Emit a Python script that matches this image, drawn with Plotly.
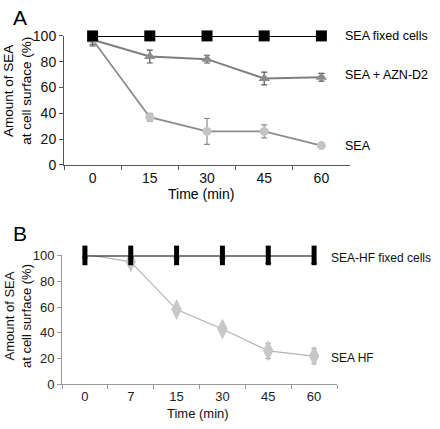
import plotly.graph_objects as go

W, H = 440, 429

# ---------- data ----------
time_a = ["0", "15", "30", "45", "60"]
sea_fixed = [100, 100, 100, 100, 100]
sea_azn = [97, 84, 82, 67, 68]
sea_azn_err = [4, 5, 3, 5, 3]
sea = [97, 37, 26, 26, 15]
sea_err = [5, 3, 10, 5, 1]

time_b = ["0", "7", "15", "30", "45", "60"]
seahf_fixed = [100, 100, 100, 100, 100, 100]
seahf_fixed_err = [2, 2, 2, 2, 6, 6]
seahf = [101, 95, 58, 43, 26, 22]
seahf_err = [2, 3, 3, 4, 6, 6]

yticks = [0, 20, 40, 60, 80, 100]

FONT = "Liberation Sans, Arial, sans-serif"

def px(x):
    return x / W

def py(y):
    return 1 - y / H

fig = go.Figure()

# ---------- panel A ----------
fig.add_trace(go.Scatter(x=time_a, y=sea, mode="lines+markers",
    line=dict(color="#8c8c8c", width=1.8),
    marker=dict(symbol="circle", size=9, color="#c4c4c4"),
    error_y=dict(type="data", array=sea_err, color="#8a8a8a", thickness=1.2, width=3),
    xaxis="x", yaxis="y", cliponaxis=False, showlegend=False))
fig.add_trace(go.Scatter(x=time_a, y=sea_azn, mode="lines+markers",
    line=dict(color="#7f7f7f", width=2),
    marker=dict(symbol="triangle-up", size=10, color="#8c8c8c"),
    error_y=dict(type="data", array=sea_azn_err, color="#555555", thickness=1.2, width=3),
    xaxis="x", yaxis="y", cliponaxis=False, showlegend=False))
fig.add_trace(go.Scatter(x=time_a, y=sea_fixed, mode="lines+markers",
    line=dict(color="black", width=2),
    marker=dict(symbol="square", size=11, color="black"),
    xaxis="x", yaxis="y", cliponaxis=False, showlegend=False))

# ---------- panel B ----------
fig.add_trace(go.Scatter(x=time_b, y=seahf, mode="lines+markers",
    line=dict(color="#b4b4b4", width=1.2),
    marker=dict(symbol="diamond-tall", size=15, color="#c8c8c8"),
    error_y=dict(type="data", array=seahf_err, color="#777777", thickness=1, width=2.5),
    xaxis="x2", yaxis="y2", cliponaxis=False, showlegend=False))
fig.add_trace(go.Scatter(x=time_b, y=seahf_fixed, mode="lines+markers",
    line=dict(color="black", width=2),
    marker=dict(symbol="line-ns", size=14, line=dict(color="black", width=5)),
    error_y=dict(type="data", array=seahf_fixed_err, color="#333333", thickness=1, width=3),
    xaxis="x2", yaxis="y2", cliponaxis=False, showlegend=False))

axis_common = dict(showgrid=False, zeroline=False, showline=True, ticks="outside",
                   ticklen=4, tickwidth=1)

fig.update_layout(
    width=W, height=H,
    margin=dict(l=0, r=0, t=0, b=0),
    paper_bgcolor="white", plot_bgcolor="white",
    font=dict(family=FONT, color="black", size=13),
    xaxis=dict(domain=[px(64), px(350)], anchor="y", type="category",
               range=[-0.5, 4.5], tickson="boundaries",
               linecolor="#555555", tickcolor="#555555",
               tickfont=dict(size=14, color="#111111"), **axis_common),
    yaxis=dict(domain=[py(163), py(29)], anchor="x", range=[0, 100],
               tickvals=yticks, linecolor="#555555", tickcolor="#555555",
               tickfont=dict(size=14, color="#111111"), **axis_common),
    xaxis2=dict(domain=[px(62), px(337)], anchor="y2", type="category",
                range=[-0.5, 5.5], tickson="boundaries",
                linecolor="#9a9a9a", tickcolor="#9a9a9a",
                tickfont=dict(size=13, color="#222222"), **axis_common),
    yaxis2=dict(domain=[py(391), py(257)], anchor="x2", range=[0, 100],
                tickvals=yticks, linecolor="#9a9a9a", tickcolor="#9a9a9a",
                tickfont=dict(size=13, color="#222222"), **axis_common),
)

def ann(text, x, y, size=13, xanchor="left", angle=0, color="black"):
    fig.add_annotation(text=text, x=px(x), y=py(y), xref="paper", yref="paper",
                       showarrow=False, xanchor=xanchor, yanchor="middle",
                       textangle=angle, font=dict(size=size, color=color, family=FONT))

ann("A", 20, 10, size=21, xanchor="center")
ann("B", 20, 234, size=21, xanchor="center")

ann("SEA fixed cells", 343, 29, size=12.5)
ann("SEA + AZN-D2", 343, 70, size=12.5)
ann("SEA", 343, 143, size=12.5)
ann("SEA-HF fixed cells", 329, 260, size=12, color="#111111")
ann("SEA HF", 329, 364, size=12, color="#111111")

ann("Amount of SEA<br>at cell surface (%)", 18, 86, size=13.5, xanchor="center", angle=-90)
ann("Amount of SEA<br>at cell surface (%)", 18, 320, size=13, xanchor="center", angle=-90,
    color="#111111")

ann("Time (min)", 201, 193, size=14, xanchor="center")
ann("Time (min)", 198, 421, size=13, xanchor="center", color="#111111")

fig.write_html("out.html", config={"displayModeBar": False},
               post_script="document.body.style.margin='0';")
